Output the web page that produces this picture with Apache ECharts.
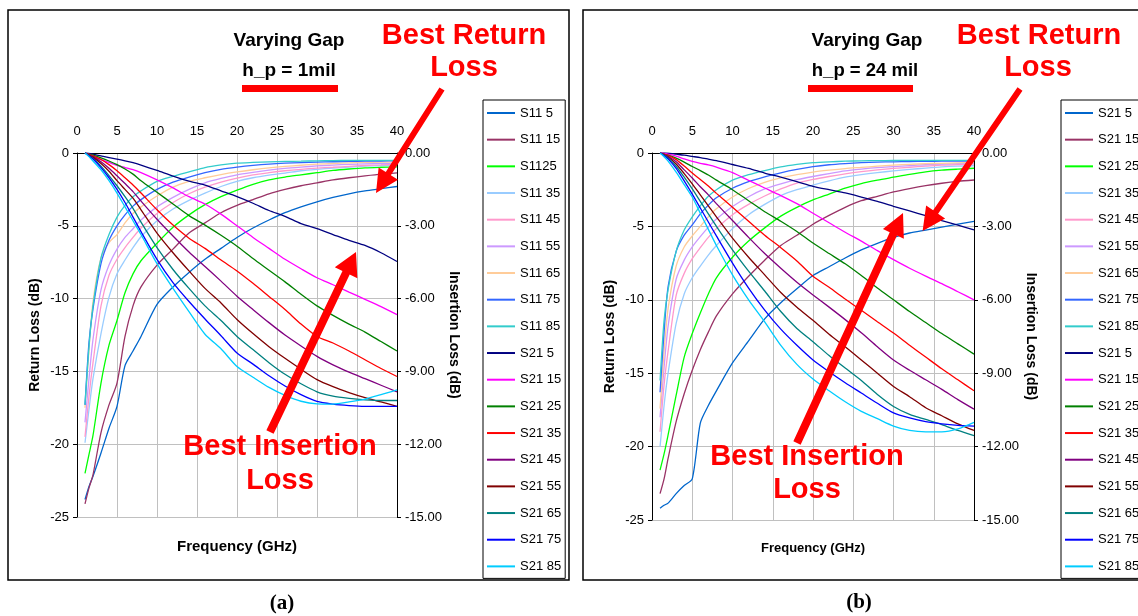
<!DOCTYPE html>
<html><head><meta charset="utf-8">
<script src="https://cdn.jsdelivr.net/npm/echarts@6/dist/echarts.min.js"></script>
<style>html,body{margin:0;padding:0;background:#fff}#c{width:1138px;height:616px}</style>
</head><body><div id="c"></div>
<script>
// Frequency points (GHz)
const FREQ = [1,1.5,2,3,4,5,6,7,8,10,12,14,16,18,20,22,24,26,28,30,32,34,36,38,40];

// Panel (a) h_p = 1 mil : return loss (left axis, dB)
const aS11_5  = [-23.8,-22.9,-22.2,-20.6,-18.9,-17.4,-14.6,-13.6,-12.6,-10.4,-9.2,-8.2,-7.3,-6.55,-5.8,-5.15,-4.6,-4.1,-3.7,-3.35,-3.05,-2.8,-2.6,-2.45,-2.3];
const aS11_15 = [-24.1,-23.0,-22.1,-19.2,-17.3,-15.8,-12.6,-10.5,-9.2,-7.7,-6.6,-5.5,-4.8,-4.1,-3.6,-3.2,-2.8,-2.5,-2.25,-2.05,-1.85,-1.7,-1.57,-1.45,-1.36];
const aS11_25 = [-22.0,-20.7,-19.4,-15.8,-13.2,-11.5,-9.6,-8.3,-7.4,-6.2,-5.1,-4.25,-3.55,-3.0,-2.55,-2.15,-1.85,-1.65,-1.5,-1.35,-1.2,-1.1,-1.02,-0.98,-0.95];
const aS11_35 = [-19.9,-17.6,-15.5,-12.4,-9.9,-8.3,-7.35,-6.5,-5.75,-4.65,-3.85,-3.25,-2.75,-2.3,-1.95,-1.7,-1.52,-1.38,-1.22,-1.12,-1.04,-0.96,-0.9,-0.86,-0.82];
const aS11_45 = [-19.5,-16.7,-14.4,-10.5,-8.4,-7.3,-6.5,-5.8,-5.15,-4.15,-3.4,-2.8,-2.35,-2.0,-1.72,-1.5,-1.35,-1.22,-1.12,-1.04,-0.98,-0.92,-0.86,-0.82,-0.78];
const aS11_55 = [-18.5,-15.5,-12.8,-9.4,-7.7,-6.6,-5.8,-5.2,-4.6,-3.7,-3.05,-2.5,-2.05,-1.75,-1.5,-1.33,-1.18,-1.06,-0.97,-0.89,-0.83,-0.78,-0.75,-0.72,-0.7];
const aS11_65 = [-17.5,-13.5,-10.2,-7.2,-6.15,-5.6,-4.8,-4.15,-3.7,-2.95,-2.35,-1.95,-1.7,-1.48,-1.3,-1.15,-1.02,-0.92,-0.84,-0.77,-0.72,-0.68,-0.65,-0.63,-0.62];
const aS11_75 = [-17.3,-13.0,-10.7,-7.6,-6.0,-5.0,-4.25,-3.65,-3.2,-2.5,-2.0,-1.65,-1.35,-1.12,-0.97,-0.85,-0.76,-0.7,-0.66,-0.63,-0.6,-0.58,-0.56,-0.55,-0.54];
const aS11_85 = [-17.3,-13.3,-10.5,-7.2,-5.6,-4.4,-3.6,-3.0,-2.6,-1.95,-1.6,-1.3,-1.0,-0.82,-0.7,-0.65,-0.61,-0.58,-0.56,-0.54,-0.52,-0.51,-0.5,-0.5,-0.5];
// Panel (a) insertion loss (right axis, dB)
const aS21_5  = [0,-0.02,-0.05,-0.12,-0.19,-0.25,-0.32,-0.4,-0.5,-0.72,-0.95,-1.16,-1.32,-1.56,-1.8,-2.07,-2.37,-2.61,-2.91,-3.12,-3.36,-3.6,-3.81,-4.11,-4.47];
const aS21_15 = [0,-0.06,-0.12,-0.27,-0.39,-0.51,-0.6,-0.69,-0.81,-1.11,-1.44,-1.8,-2.1,-2.52,-3.0,-3.48,-3.93,-4.38,-4.77,-5.14,-5.43,-5.73,-6.03,-6.33,-6.66];
const aS21_25 = [0,-0.05,-0.09,-0.2,-0.33,-0.48,-0.66,-0.87,-1.14,-1.62,-2.1,-2.58,-2.97,-3.39,-3.84,-4.35,-4.83,-5.31,-5.82,-6.3,-6.69,-7.05,-7.38,-7.77,-8.16];
const aS21_35 = [0,-0.06,-0.12,-0.27,-0.48,-0.73,-1.02,-1.32,-1.65,-2.34,-2.97,-3.51,-3.93,-4.41,-4.86,-5.37,-5.91,-6.45,-7.05,-7.56,-7.83,-8.16,-8.52,-8.88,-9.21];
const aS21_45 = [0,-0.07,-0.15,-0.36,-0.63,-0.94,-1.26,-1.59,-1.98,-2.73,-3.42,-4.08,-4.68,-5.28,-5.9,-6.45,-6.99,-7.5,-7.95,-8.38,-8.73,-9.03,-9.3,-9.57,-9.84];
const aS21_55 = [0,-0.09,-0.18,-0.43,-0.75,-1.14,-1.5,-1.86,-2.34,-3.3,-4.11,-4.86,-5.58,-6.18,-6.86,-7.44,-7.98,-8.46,-8.91,-9.34,-9.63,-9.87,-10.08,-10.26,-10.44];
const aS21_65 = [0,-0.11,-0.23,-0.54,-0.93,-1.35,-1.8,-2.28,-2.85,-3.9,-4.8,-5.58,-6.3,-6.9,-7.56,-8.1,-8.64,-9.12,-9.51,-9.84,-10.02,-10.11,-10.17,-10.2,-10.2];
const aS21_75 = [0,-0.12,-0.25,-0.6,-1.02,-1.5,-2.04,-2.64,-3.24,-4.38,-5.34,-6.12,-6.84,-7.53,-8.24,-8.7,-9.18,-9.6,-9.96,-10.24,-10.35,-10.41,-10.44,-10.44,-10.44];
const aS21_85 = [0,-0.15,-0.33,-0.69,-1.14,-1.65,-2.22,-2.79,-3.36,-4.56,-5.58,-6.54,-7.47,-8.07,-8.8,-9.24,-9.66,-9.99,-10.23,-10.34,-10.35,-10.26,-10.14,-9.96,-9.76];

// Panel (b) h_p = 24 mil : return loss (left axis, dB)
const bS11_5  = [-24.2,-24.0,-23.85,-23.2,-22.65,-22.2,-18.4,-17.2,-16.2,-14.3,-12.8,-11.3,-10.2,-9.25,-8.35,-7.75,-7.15,-6.6,-6.15,-5.75,-5.45,-5.25,-5.05,-4.85,-4.66];
const bS11_15 = [-23.2,-22.2,-20.8,-18.3,-16.4,-14.8,-13.4,-12.2,-11.1,-9.6,-8.4,-7.3,-6.3,-5.6,-4.85,-4.25,-3.7,-3.25,-2.95,-2.65,-2.42,-2.22,-2.06,-1.93,-1.84];
const bS11_25 = [-21.6,-20.5,-19.2,-16.5,-13.9,-12.3,-10.9,-9.6,-8.5,-7.1,-6.0,-5.1,-4.3,-3.7,-3.2,-2.8,-2.4,-2.08,-1.85,-1.65,-1.45,-1.28,-1.17,-1.1,-1.04];
const bS11_35 = [-20.0,-17.2,-15.0,-11.6,-9.6,-8.5,-7.7,-6.95,-6.3,-5.15,-4.2,-3.5,-2.9,-2.5,-2.18,-1.9,-1.65,-1.48,-1.34,-1.22,-1.12,-1.03,-0.95,-0.9,-0.87];
const bS11_45 = [-19.0,-15.8,-13.5,-9.7,-8.2,-7.2,-6.45,-5.75,-5.15,-4.2,-3.5,-2.93,-2.45,-2.05,-1.8,-1.6,-1.42,-1.27,-1.15,-1.05,-0.97,-0.9,-0.83,-0.79,-0.76];
const bS11_55 = [-18.0,-14.6,-11.8,-8.6,-7.3,-6.4,-5.7,-5.05,-4.5,-3.65,-2.98,-2.45,-2.1,-1.82,-1.6,-1.4,-1.22,-1.1,-1.0,-0.93,-0.86,-0.8,-0.76,-0.72,-0.7];
const bS11_65 = [-17.4,-13.5,-10.6,-7.7,-6.4,-5.65,-5.0,-4.35,-3.8,-3.0,-2.42,-2.0,-1.7,-1.48,-1.3,-1.17,-1.06,-0.98,-0.9,-0.83,-0.77,-0.73,-0.7,-0.67,-0.65];
const bS11_75 = [-16.3,-12.2,-9.1,-6.7,-5.6,-4.9,-4.15,-3.55,-3.05,-2.4,-1.95,-1.62,-1.35,-1.12,-0.93,-0.8,-0.72,-0.66,-0.62,-0.6,-0.58,-0.57,-0.56,-0.55,-0.55];
const bS11_85 = [-15.5,-11.4,-9.3,-6.7,-5.25,-4.35,-3.6,-2.95,-2.5,-1.85,-1.48,-1.2,-0.95,-0.78,-0.66,-0.6,-0.56,-0.53,-0.52,-0.51,-0.5,-0.5,-0.5,-0.5,-0.5];
// Panel (b) insertion loss (right axis, dB)
const bS21_5  = [0,0,-0.01,-0.05,-0.09,-0.14,-0.19,-0.25,-0.31,-0.47,-0.63,-0.82,-0.99,-1.17,-1.36,-1.5,-1.63,-1.8,-1.98,-2.18,-2.37,-2.56,-2.76,-2.95,-3.14];
const bS21_15 = [0,-0.02,-0.05,-0.13,-0.24,-0.34,-0.42,-0.49,-0.58,-0.8,-1.12,-1.43,-1.74,-2.07,-2.46,-2.85,-3.24,-3.6,-3.99,-4.36,-4.71,-5.03,-5.34,-5.67,-6.0];
const bS21_25 = [0,-0.05,-0.09,-0.21,-0.37,-0.55,-0.72,-0.9,-1.11,-1.5,-1.95,-2.4,-2.79,-3.21,-3.68,-4.11,-4.53,-5.01,-5.52,-6.0,-6.48,-6.93,-7.38,-7.8,-8.22];
const bS21_35 = [0,-0.05,-0.1,-0.27,-0.53,-0.82,-1.08,-1.35,-1.65,-2.22,-2.79,-3.36,-3.87,-4.41,-5.04,-5.49,-5.97,-6.43,-6.9,-7.36,-7.86,-8.34,-8.82,-9.27,-9.72];
const bS21_45 = [0,-0.06,-0.13,-0.36,-0.69,-1.02,-1.38,-1.71,-2.07,-2.76,-3.45,-4.11,-4.71,-5.28,-5.8,-6.3,-6.81,-7.35,-7.92,-8.46,-8.88,-9.27,-9.66,-10.08,-10.47];
const bS21_55 = [0,-0.07,-0.16,-0.45,-0.84,-1.26,-1.71,-2.16,-2.61,-3.48,-4.26,-4.98,-5.7,-6.3,-6.84,-7.41,-7.92,-8.46,-9.0,-9.54,-9.96,-10.41,-10.74,-11.07,-11.34];
const bS21_65 = [0,-0.09,-0.2,-0.54,-0.99,-1.47,-1.98,-2.49,-3.0,-3.96,-4.83,-5.64,-6.48,-7.17,-7.71,-8.28,-8.79,-9.3,-9.87,-10.36,-10.68,-10.89,-11.1,-11.34,-11.55];
const bS21_75 = [0,-0.11,-0.24,-0.63,-1.14,-1.68,-2.25,-2.82,-3.39,-4.5,-5.52,-6.42,-7.2,-7.86,-8.46,-8.94,-9.39,-9.81,-10.23,-10.62,-10.83,-10.98,-11.07,-11.13,-11.16];
const bS21_85 = [0,-0.15,-0.33,-0.78,-1.29,-1.8,-2.46,-3.12,-3.78,-4.98,-6.0,-6.9,-7.86,-8.64,-9.24,-9.72,-10.17,-10.56,-10.86,-11.16,-11.34,-11.4,-11.4,-11.28,-11.01];

// Legend labels as printed
const LABELS_A = ['S11 5','S11 15','S1125','S11 35','S11 45','S11 55','S11 65','S11 75','S11 85','S21 5','S21 15','S21 25','S21 35','S21 45','S21 55','S21 65','S21 75','S21 85'];
const LABELS_B = ['S21 5','S21 15','S21 25','S21 35','S21 45','S21 55','S21 65','S21 75','S21 85','S21 5','S21 15','S21 25','S21 35','S21 45','S21 55','S21 65','S21 75','S21 85'];

// Axis ticks
const X_TICKS = [0,5,10,15,20,25,30,35,40];
const RL_TICKS = [0,-5,-10,-15,-20,-25];
const IL_TICKS = [0,-3,-6,-9,-12,-15];

const COLORS = ['#0066CC','#993366','#00FF00','#99CCFF','#FF99CC','#CC99FF','#FFCC99','#3366FF','#33CCCC',
                '#000080','#FF00FF','#008000','#FF0000','#800080','#800000','#008080','#0000FF','#00CCFF'];

const A_SETS = [aS11_5,aS11_15,aS11_25,aS11_35,aS11_45,aS11_55,aS11_65,aS11_75,aS11_85,
                aS21_5,aS21_15,aS21_25,aS21_35,aS21_45,aS21_55,aS21_65,aS21_75,aS21_85];
const B_SETS = [bS11_5,bS11_15,bS11_25,bS11_35,bS11_45,bS11_55,bS11_65,bS11_75,bS11_85,
                bS21_5,bS21_15,bS21_25,bS21_35,bS21_45,bS21_55,bS21_65,bS21_75,bS21_85];

const FONT = '"Liberation Sans", Arial, sans-serif';
const chart = echarts.init(document.getElementById('c'), null, {renderer:'canvas'});

const labelMap = {};
const series = [];
function addPanel(prefix, sets, labels, panel){
  sets.forEach((arr, i) => {
    const id = prefix + i;
    labelMap[id] = labels[i];
    series.push({
      name: id, type: 'line',
      xAxisIndex: panel, yAxisIndex: panel*2 + (i < 9 ? 0 : 1),
      data: FREQ.map((f, k) => [f, arr[k]]),
      symbol: 'none', showSymbol: false, smooth: 0.25,
      lineStyle: {width: 1.3, color: COLORS[i]},
      itemStyle: {color: COLORS[i]},
      silent: true
    });
  });
}
addPanel('a', A_SETS, LABELS_A, 0);
addPanel('b', B_SETS, LABELS_B, 1);

function xAxis(gi){
  return {gridIndex: gi, type:'value', min:0, max:40, interval:5, position:'top',
    axisLine:{onZero:false, lineStyle:{color:'#000', width:1}},
    axisTick:{show:false},
    axisLabel:{margin:15, fontSize:13, color:'#000', fontFamily:FONT,
      formatter: v => X_TICKS.includes(v) ? String(v) : ''},
    splitLine:{show:true, lineStyle:{color:'#c0c0c0', width:1}}};
}
function yLeft(gi){
  return {gridIndex: gi, type:'value', min:-25, max:0, interval:5, position:'left',
    axisLine:{show:true, onZero:false, lineStyle:{color:'#000', width:1}},
    axisTick:{show:true, length:4, lineStyle:{color:'#000'}},
    axisLabel:{margin:8, fontSize:13, color:'#000', fontFamily:FONT,
      formatter: v => RL_TICKS.includes(v) ? String(v) : ''},
    splitLine:{show:true, lineStyle:{color:'#c0c0c0', width:1}},
    name:'Return Loss (dB)', nameLocation:'middle', nameGap:35,
    nameTextStyle:{fontWeight:'bold', fontSize:14, color:'#000', fontFamily:FONT}};
}
function yRight(gi){
  return {gridIndex: gi, type:'value', min:-15, max:0, interval:3, position:'right',
    axisLine:{show:true, onZero:false, lineStyle:{color:'#000', width:1}},
    axisTick:{show:true, length:4, lineStyle:{color:'#000'}},
    axisLabel:{margin:8, fontSize:13, color:'#000', fontFamily:FONT,
      formatter: v => IL_TICKS.includes(v) ? v.toFixed(2) : ''},
    splitLine:{show:false},
    name:'Insertion Loss (dB)', nameLocation:'middle', nameGap:50, nameRotate:-90,
    nameTextStyle:{fontWeight:'bold', fontSize:14, color:'#000', fontFamily:FONT}};
}

function legend(prefix, left){
  return {show:true, orient:'vertical', left:left, top:100,
    data: Array.from({length:18}, (_, i) => prefix + i),
    formatter: name => labelMap[name],
    icon:'rect', itemWidth:28, itemHeight:2, itemGap:12.67,
    padding:[6,4,5,4], borderColor:'#000', borderWidth:1, backgroundColor:'#fff',
    selectedMode:false,
    textStyle:{fontSize:13, color:'#000', fontFamily:FONT, lineHeight:14}};
}

function arrow(tx, ty, px, py, w, L, H){
  const dx = px - tx, dy = py - ty, len = Math.hypot(dx, dy);
  const ux = dx/len, uy = dy/len, nx = -uy, ny = ux;
  const bx = px - ux*L, by = py - uy*L;
  return {type:'polygon', z:200, silent:true,
    shape:{points:[[tx+nx*w/2,ty+ny*w/2],[bx+nx*w/2,by+ny*w/2],[bx+nx*H,by+ny*H],[px,py],
                   [bx-nx*H,by-ny*H],[bx-nx*w/2,by-ny*w/2],[tx-nx*w/2,ty-ny*w/2]]},
    style:{fill:'#FF0000', stroke:null}};
}
function txt(x, y, text, font, fill){
  return {type:'text', x:x, y:y, z:210, silent:true,
    style:{text:text, font:font, fill:fill || '#000', align:'center', verticalAlign:'middle'}};
}
const RED_FONT = 'bold 29px ' + FONT;

const graphic = [
  {type:'rect', z:-10, silent:true, shape:{x:8, y:10, width:561, height:570}, style:{fill:'none', stroke:'#000', lineWidth:1.5}},
  {type:'rect', z:-10, silent:true, shape:{x:583, y:10, width:600, height:570}, style:{fill:'none', stroke:'#000', lineWidth:1.5}},
  txt(289, 41, 'Varying Gap', 'bold 19px ' + FONT),
  txt(289, 71, 'h_p = 1mil', 'bold 19px ' + FONT),
  {type:'rect', z:210, silent:true, shape:{x:242, y:85, width:96, height:7}, style:{fill:'#FF0000'}},
  txt(867, 41, 'Varying Gap', 'bold 19px ' + FONT),
  txt(865, 71, 'h_p = 24 mil', 'bold 18.5px ' + FONT),
  {type:'rect', z:210, silent:true, shape:{x:808, y:85, width:105, height:7}, style:{fill:'#FF0000'}},
  txt(464, 36, 'Best Return', RED_FONT, '#FF0000'),
  txt(464, 68, 'Loss', RED_FONT, '#FF0000'),
  txt(280, 447, 'Best Insertion', RED_FONT, '#FF0000'),
  txt(280, 481, 'Loss', RED_FONT, '#FF0000'),
  txt(1039, 36, 'Best Return', RED_FONT, '#FF0000'),
  txt(1038, 68, 'Loss', RED_FONT, '#FF0000'),
  txt(807, 457, 'Best Insertion', RED_FONT, '#FF0000'),
  txt(807, 490, 'Loss', RED_FONT, '#FF0000'),
  arrow(442, 89, 376, 193, 6, 23, 11.5),
  arrow(270, 432, 356, 252, 8, 23, 12.5),
  arrow(1020, 89, 922.6, 231, 6, 23, 11.5),
  arrow(797, 443, 903, 213, 8, 23, 11.5),
  txt(237, 547, 'Frequency (GHz)', 'bold 15px ' + FONT),
  txt(813, 548, 'Frequency (GHz)', 'bold 13px ' + FONT),
  txt(282, 604, '(a)', 'bold 21px "Liberation Serif", "Times New Roman", serif'),
  txt(859, 603, '(b)', 'bold 21px "Liberation Serif", "Times New Roman", serif')
];

chart.setOption({
  animation:false,
  backgroundColor:'#fff',
  textStyle:{fontFamily:FONT},
  grid:[
    {left:77, top:153, width:320, height:364, containLabel:false, show:false},
    {left:652, top:153, width:322, height:367, containLabel:false, show:false}
  ],
  xAxis:[xAxis(0), xAxis(1)],
  yAxis:[yLeft(0), yRight(0), yLeft(1), yRight(1)],
  legend:[legend('a', 483), legend('b', 1061)],
  series: series,
  graphic: graphic
});
</script>
</body></html>
